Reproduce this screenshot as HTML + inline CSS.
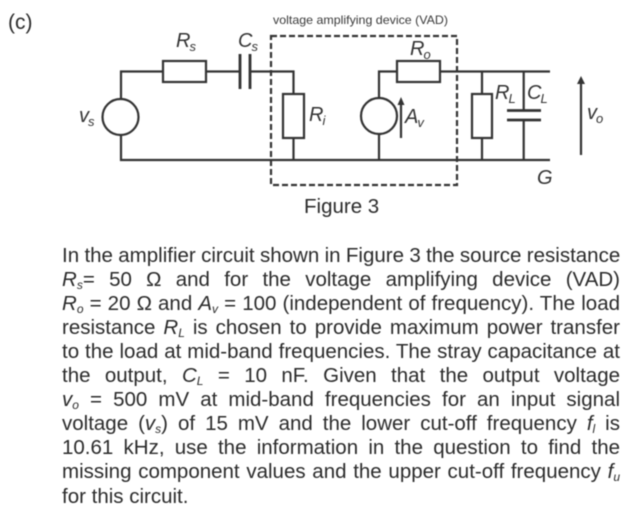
<!DOCTYPE html>
<html><head><meta charset="utf-8">
<style>
html,body{margin:0;padding:0;background:#fff}
#p{position:relative;width:644px;height:515px;overflow:hidden;background:#fff;font-family:"Liberation Sans",sans-serif;color:#2b2b2b;filter:blur(.5px)}
svg{position:absolute;left:0;top:0}
.l{position:absolute;left:62px;width:558px;font-size:20.5px;line-height:24px;height:24px;white-space:nowrap;text-align:justify;text-align-last:justify}
.l.e{text-align-last:left}
.l i sub,sub{font-size:12px;line-height:0;vertical-align:-3px}
</style></head><body><div id="p">
<svg width="644" height="515" viewBox="0 0 644 515">
<g fill="none" stroke="#333" stroke-width="2.2">
<path d="M163 71.5H121V99M121 135V160H550M206 71.5H240M250 71.5H293.5V94M293.5 138V160"/>
<rect x="163" y="61" width="43" height="21"/>
<path d="M240 54V89M250 54V89" stroke-width="2.8"/>
<circle cx="120.5" cy="117" r="18"/>
<rect x="283" y="94" width="21" height="44"/>
<path d="M397 71.5H379V98M379 134V160M440 71.5H550"/>
<rect x="397" y="61" width="43" height="21"/>
<circle cx="379" cy="116" r="18"/>
<path d="M482 71.5V94M482 138V160M523.7 71.5V110M523.7 120V160"/>
<rect x="472" y="94" width="20" height="44"/>
<path d="M507 110.500H541M507 120H541" stroke-width="2.8"/>
<path d="M401 103V138M581 82V155"/>
<rect x="271" y="36" width="186" height="149" stroke-dasharray="6 3"/>
</g>
<path d="M401 97L397.500 105H404.500ZM581 76L577 84H585Z" fill="#333"/>
<g font-family="Liberation Sans,sans-serif" fill="#333" font-style="italic" font-size="20" letter-spacing="-1">
<text x="176" y="47">R<tspan font-size="13" dy="4">s</tspan></text>
<text x="238" y="47">C<tspan font-size="13" dy="4">s</tspan></text>
<text x="79" y="122">v<tspan font-size="13" dy="4">s</tspan></text>
<text x="309" y="121">R<tspan font-size="13" dy="4">i</tspan></text>
<text x="410" y="55">R<tspan font-size="13" dy="4">o</tspan></text>
<text x="405" y="123">A<tspan font-size="13" dy="4">v</tspan></text>
<text x="495" y="99">R<tspan font-size="13" dy="4">L</tspan></text>
<text x="527" y="99">C<tspan font-size="13" dy="4">L</tspan></text>
<text x="587" y="119">v<tspan font-size="13" dy="4">o</tspan></text>
<text x="537" y="184">G</text>
</g>
<text x="273" y="24" font-family="Liberation Sans,sans-serif" font-size="12" fill="#3a3a3a" textLength="175" lengthAdjust="spacingAndGlyphs">voltage amplifying device (VAD)</text>
<text x="304" y="213" font-family="Liberation Sans,sans-serif" font-size="20.500" fill="#2b2b2b">Figure 3</text>
<text x="8" y="29" font-family="Liberation Sans,sans-serif" font-size="21" fill="#2b2b2b">(c)</text>
</svg>
<div class="l" style="top:243.500px;word-spacing:-.35px">In the amplifier circuit shown in Figure 3 the source resistance</div>
<div class="l" style="top:267.500px"><i>R<sub>s</sub></i>= 50 Ω and for the voltage amplifying device (VAD)</div>
<div class="l" style="top:291.500px"><i>R<sub>o</sub></i> = 20 Ω and <i>A<sub>v</sub></i> = 100 (independent of frequency). The load</div>
<div class="l" style="top:315.500px">resistance <i>R<sub>L</sub></i> is chosen to provide maximum power transfer</div>
<div class="l" style="top:339.500px">to the load at mid-band frequencies. The stray capacitance at</div>
<div class="l" style="top:363.500px">the output, <i>C<sub>L</sub></i> = 10 nF. Given that the output voltage</div>
<div class="l" style="top:388px"><i>v<sub>o</sub></i> = 500 mV at mid-band frequencies for an input signal</div>
<div class="l" style="top:412px">voltage (<i>v<sub>s</sub></i>) of 15 mV and the lower cut-off frequency <i>f<sub>l</sub></i> is</div>
<div class="l" style="top:436px">10.61 kHz, use the information in the question to find the</div>
<div class="l" style="top:460px">missing component values and the upper cut-off frequency <i>f<sub>u</sub></i></div>
<div class="l e" style="top:485px">for this circuit.</div>
</div></body></html>
